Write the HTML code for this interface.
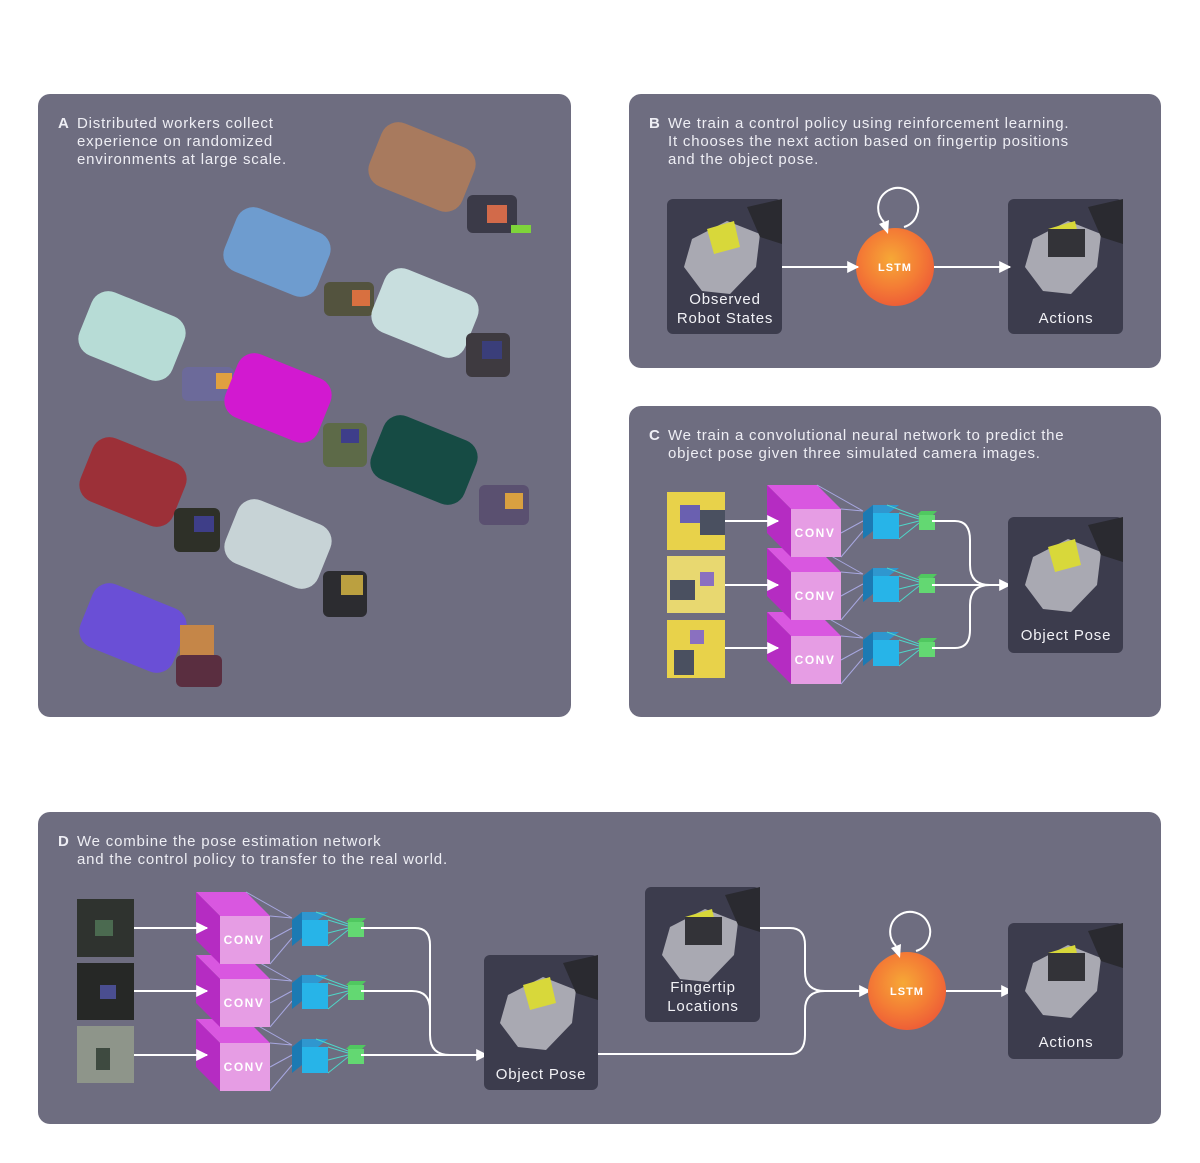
<!DOCTYPE html>
<html><head><meta charset="utf-8"><style>
html,body{margin:0;padding:0;background:#fff;}
svg{display:block;}
text{font-family:"Liberation Sans",sans-serif;}
.t{letter-spacing:0.8px;}
</style></head><body>
<svg width="1200" height="1163" viewBox="0 0 1200 1163" xmlns="http://www.w3.org/2000/svg">
<defs>
<radialGradient id="lstm" cx="0.45" cy="0.4" r="0.6">
<stop offset="0" stop-color="#f6a836"/><stop offset="0.6" stop-color="#f47d35"/><stop offset="1" stop-color="#ee5f36"/>
</radialGradient>
<marker id="ar" viewBox="0 0 10 10" refX="9" refY="5" markerWidth="14" markerHeight="12" markerUnits="userSpaceOnUse" orient="auto">
<path d="M0,0 L10,5 L0,10 z" fill="#fff"/></marker>
<g id="conv">
<polygon points="-24,-24 26,-24 50,0 0,0" fill="#d957e0"/>
<polygon points="-24,-24 0,0 0,48 -24,24" fill="#b52cc2"/>
<rect x="0" y="0" width="50" height="48" fill="#e69de4"/>
<g stroke-width="1" fill="none">
<path d="M26,-24 L72,2 M50,0 L72,2 M50,24 L72,12 M50,48 L72,22" stroke="#a7a7e0"/>
</g>
<polygon points="72,4 82,-4 108,-4 98,4" fill="#2f97cf"/>
<polygon points="72,4 82,-4 82,22 72,30" fill="#1c7ab3"/>
<rect x="82" y="4" width="26" height="26" fill="#27b4e8"/>
<g stroke="#4fd6c8" stroke-width="1" fill="none">
<path d="M96,-4 L128,8 M108,4 L128,10 M108,17 L128,12 M108,30 L128,14"/>
</g>
<polygon points="126,6 130,2 146,2 142,6" fill="#50c860"/>
<rect x="128" y="6" width="16" height="15" fill="#63d872"/>
</g>
<g id="hand">
<polygon points="20,40 55,22 88,35 84,68 58,95 30,92 12,68" fill="#a9a9b2"/>
<polygon points="75,8 110,0 110,45 88,38" fill="#2a2a30"/>
<polygon points="35,30 62,22 68,48 42,55" fill="#d8d83a"/>
</g>
</defs>

<!-- Panel A -->
<rect x="38" y="94" width="533" height="623" rx="12" fill="#6e6d80"/>
<text x="58" y="128" font-size="15" font-weight="bold" fill="#eeeef4">A</text>
<text class="t" font-size="15" fill="#eeeef4"><tspan x="77" y="128">Distributed workers collect</tspan><tspan x="77" y="146">experience on randomized</tspan><tspan x="77" y="164">environments at large scale.</tspan></text>

<g>
<g transform="translate(422,167) rotate(22)"><rect x="-50" y="-34" width="100" height="68" rx="18" fill="#a87a5e"/></g>
<g transform="translate(495,215)"><rect x="-28" y="-20" width="50" height="38" rx="6" fill="#3b3a48"/><rect x="-8" y="-10" width="20" height="18" fill="#d26a4a"/><rect x="16" y="10" width="20" height="8" fill="#7ed43a"/></g>
<g transform="translate(277,252) rotate(22)"><rect x="-50" y="-34" width="100" height="68" rx="18" fill="#6e9ccf"/></g>
<g transform="translate(352,300)"><rect x="-28" y="-18" width="50" height="34" rx="6" fill="#53533e"/><rect x="0" y="-10" width="18" height="16" fill="#d87040"/></g>
<g transform="translate(132,336) rotate(22)"><rect x="-50" y="-34" width="100" height="68" rx="18" fill="#b7dcd6"/></g>
<g transform="translate(425,313) rotate(22)"><rect x="-50" y="-34" width="100" height="68" rx="18" fill="#c8dede"/></g>
<g transform="translate(490,355)"><rect x="-24" y="-22" width="44" height="44" rx="6" fill="#3e3a40"/><rect x="-8" y="-14" width="20" height="18" fill="#3a3e7a"/></g>
<g transform="translate(210,385)"><rect x="-28" y="-18" width="52" height="34" rx="6" fill="#6c6a9a"/><rect x="6" y="-12" width="16" height="16" fill="#e0a040"/></g>
<g transform="translate(278,398) rotate(22)"><rect x="-50" y="-34" width="100" height="68" rx="18" fill="#d219d0"/></g>
<g transform="translate(345,445)"><rect x="-22" y="-22" width="44" height="44" rx="6" fill="#5d6a48"/><rect x="-4" y="-16" width="18" height="14" fill="#3e3e8a"/></g>
<g transform="translate(424,460) rotate(22)"><rect x="-50" y="-34" width="100" height="68" rx="18" fill="#164b44"/></g>
<g transform="translate(505,505)"><rect x="-26" y="-20" width="50" height="40" rx="6" fill="#5a5070"/><rect x="0" y="-12" width="18" height="16" fill="#d9a040"/></g>
<g transform="translate(133,482) rotate(22)"><rect x="-50" y="-34" width="100" height="68" rx="18" fill="#9c3038"/></g>
<g transform="translate(198,530)"><rect x="-24" y="-22" width="46" height="44" rx="6" fill="#2e3028"/><rect x="-4" y="-14" width="20" height="16" fill="#3e3e88"/></g>
<g transform="translate(278,544) rotate(22)"><rect x="-50" y="-34" width="100" height="68" rx="18" fill="#c7d3d6"/></g>
<g transform="translate(345,595)"><rect x="-22" y="-24" width="44" height="46" rx="6" fill="#2c2c30"/><rect x="-4" y="-20" width="22" height="20" fill="#bba040"/></g>
<g transform="translate(133,628) rotate(22)"><rect x="-50" y="-34" width="100" height="68" rx="18" fill="#6a4fd6"/></g>
<g transform="translate(202,655)"><rect x="-22" y="-30" width="34" height="32" fill="#c58648"/><rect x="-26" y="0" width="46" height="32" rx="6" fill="#5a2e40"/></g>
</g>

<!-- Panel B -->
<rect x="629" y="94" width="532" height="274" rx="12" fill="#6e6d80"/>
<text x="649" y="128" font-size="15" font-weight="bold" fill="#eeeef4">B</text>
<text class="t" font-size="15" fill="#eeeef4"><tspan x="668" y="128">We train a control policy using reinforcement learning.</tspan><tspan x="668" y="146">It chooses the next action based on fingertip positions</tspan><tspan x="668" y="164">and the object pose.</tspan></text>
<rect x="667" y="199" width="115" height="135" rx="6" fill="#3c3c4d"/>
<g transform="translate(672,199)"><use href="#hand"/></g>
<text class="t" x="725" y="304" font-size="15" fill="#f2f2f6" text-anchor="middle">Observed</text>
<text class="t" x="725" y="323" font-size="15" fill="#f2f2f6" text-anchor="middle">Robot States</text>
<rect x="1008" y="199" width="115" height="135" rx="6" fill="#3c3c4d"/>
<g transform="translate(1013,199)"><use href="#hand"/><rect x="35" y="30" width="37" height="28" fill="#333338"/></g>
<text class="t" x="1066" y="323" font-size="15" fill="#f2f2f6" text-anchor="middle">Actions</text>
<circle cx="895" cy="267" r="39" fill="url(#lstm)"/>
<text x="895" y="271" font-size="11" font-weight="bold" fill="#fff" text-anchor="middle" letter-spacing="1">LSTM</text>
<path d="M904,227 A20,20 0 1 0 884,222" fill="none" stroke="#fff" stroke-width="2"/>
<polygon points="888,234 879,224 889,220" fill="#fff"/>
<line x1="782" y1="267" x2="858" y2="267" stroke="#fff" stroke-width="2" marker-end="url(#ar)"/>
<line x1="934" y1="267" x2="1010" y2="267" stroke="#fff" stroke-width="2" marker-end="url(#ar)"/>

<!-- Panel C -->
<rect x="629" y="406" width="532" height="311" rx="12" fill="#6e6d80"/>
<text x="649" y="440" font-size="15" font-weight="bold" fill="#eeeef4">C</text>
<text class="t" font-size="15" fill="#eeeef4"><tspan x="668" y="440">We train a convolutional neural network to predict the</tspan><tspan x="668" y="458">object pose given three simulated camera images.</tspan></text>
<rect x="667" y="492" width="58" height="58" fill="#e8d24a"/><rect x="680" y="505" width="20" height="18" fill="#6a60b0"/><rect x="700" y="510" width="25" height="25" fill="#4a5060"/>
<rect x="667" y="556" width="58" height="57" fill="#e8d870"/><rect x="670" y="580" width="25" height="20" fill="#4a5060"/><rect x="700" y="572" width="14" height="14" fill="#8a70c0"/>
<rect x="667" y="620" width="58" height="58" fill="#e8d24a"/><rect x="690" y="630" width="14" height="14" fill="#8a70c0"/><rect x="674" y="650" width="20" height="25" fill="#4a5060"/>
<use href="#conv" x="791" y="636"/>
<use href="#conv" x="791" y="572"/>
<use href="#conv" x="791" y="509"/>
<line x1="725" y1="521" x2="778" y2="521" stroke="#fff" stroke-width="2" marker-end="url(#ar)"/>
<line x1="725" y1="585" x2="778" y2="585" stroke="#fff" stroke-width="2" marker-end="url(#ar)"/>
<line x1="725" y1="648" x2="778" y2="648" stroke="#fff" stroke-width="2" marker-end="url(#ar)"/>
<text x="815" y="537" font-size="12" font-weight="bold" fill="#fff" text-anchor="middle" letter-spacing="1.5">CONV</text>
<text x="815" y="600" font-size="12" font-weight="bold" fill="#fff" text-anchor="middle" letter-spacing="1.5">CONV</text>
<text x="815" y="664" font-size="12" font-weight="bold" fill="#fff" text-anchor="middle" letter-spacing="1.5">CONV</text>
<path d="M932,521 L955,521 Q970,521 970,540 L970,565 Q970,585 990,585" fill="none" stroke="#fff" stroke-width="2"/>
<path d="M932,648 L955,648 Q970,648 970,630 L970,605 Q970,585 990,585" fill="none" stroke="#fff" stroke-width="2"/>
<line x1="932" y1="585" x2="1010" y2="585" stroke="#fff" stroke-width="2" marker-end="url(#ar)"/>
<rect x="1008" y="517" width="115" height="136" rx="6" fill="#3c3c4d"/>
<g transform="translate(1013,517)"><use href="#hand"/></g>
<text class="t" x="1066" y="640" font-size="15" fill="#f2f2f6" text-anchor="middle">Object Pose</text>

<!-- Panel D -->
<rect x="38" y="812" width="1123" height="312" rx="12" fill="#6e6d80"/>
<text x="58" y="846" font-size="15" font-weight="bold" fill="#eeeef4">D</text>
<text class="t" font-size="15" fill="#eeeef4"><tspan x="77" y="846">We combine the pose estimation network</tspan><tspan x="77" y="864">and the control policy to transfer to the real world.</tspan></text>
<rect x="77" y="899" width="57" height="58" fill="#2f332f"/><rect x="95" y="920" width="18" height="16" fill="#4b6a50"/>
<rect x="77" y="963" width="57" height="57" fill="#262826"/><rect x="100" y="985" width="16" height="14" fill="#4a4e90"/>
<rect x="77" y="1026" width="57" height="57" fill="#8e958a"/><rect x="96" y="1048" width="14" height="22" fill="#3e4a40"/>
<use href="#conv" x="220" y="1043"/>
<use href="#conv" x="220" y="979"/>
<use href="#conv" x="220" y="916"/>
<line x1="134" y1="928" x2="207" y2="928" stroke="#fff" stroke-width="2" marker-end="url(#ar)"/>
<line x1="134" y1="991" x2="207" y2="991" stroke="#fff" stroke-width="2" marker-end="url(#ar)"/>
<line x1="134" y1="1055" x2="207" y2="1055" stroke="#fff" stroke-width="2" marker-end="url(#ar)"/>
<text x="244" y="944" font-size="12" font-weight="bold" fill="#fff" text-anchor="middle" letter-spacing="1.5">CONV</text>
<text x="244" y="1007" font-size="12" font-weight="bold" fill="#fff" text-anchor="middle" letter-spacing="1.5">CONV</text>
<text x="244" y="1071" font-size="12" font-weight="bold" fill="#fff" text-anchor="middle" letter-spacing="1.5">CONV</text>
<path d="M361,928 L415,928 Q430,928 430,945 L430,1035 Q430,1055 450,1055" fill="none" stroke="#fff" stroke-width="2"/>
<path d="M361,991 L412,991 Q430,991 430,1010" fill="none" stroke="#fff" stroke-width="2"/>
<line x1="361" y1="1055" x2="487" y2="1055" stroke="#fff" stroke-width="2" marker-end="url(#ar)"/>
<rect x="484" y="955" width="114" height="135" rx="6" fill="#3c3c4d"/>
<g transform="translate(488,955)"><use href="#hand"/></g>
<text class="t" x="541" y="1079" font-size="15" fill="#f2f2f6" text-anchor="middle">Object Pose</text>
<rect x="645" y="887" width="115" height="135" rx="6" fill="#3c3c4d"/>
<g transform="translate(650,887)"><use href="#hand"/><rect x="35" y="30" width="37" height="28" fill="#333338"/></g>
<text class="t" x="703" y="992" font-size="15" fill="#f2f2f6" text-anchor="middle">Fingertip</text>
<text class="t" x="703" y="1011" font-size="15" fill="#f2f2f6" text-anchor="middle">Locations</text>
<path d="M598,1054 L790,1054 Q805,1054 805,1035 L805,1010 Q805,991 825,991" fill="none" stroke="#fff" stroke-width="2"/>
<path d="M760,928 L790,928 Q805,928 805,945 L805,972 Q805,991 825,991" fill="none" stroke="#fff" stroke-width="2"/>
<line x1="820" y1="991" x2="870" y2="991" stroke="#fff" stroke-width="2" marker-end="url(#ar)"/>
<circle cx="907" cy="991" r="39" fill="url(#lstm)"/>
<text x="907" y="995" font-size="11" font-weight="bold" fill="#fff" text-anchor="middle" letter-spacing="1">LSTM</text>
<path d="M916,951 A20,20 0 1 0 896,946" fill="none" stroke="#fff" stroke-width="2"/>
<polygon points="900,958 891,948 901,944" fill="#fff"/>
<line x1="946" y1="991" x2="1012" y2="991" stroke="#fff" stroke-width="2" marker-end="url(#ar)"/>
<rect x="1008" y="923" width="115" height="136" rx="6" fill="#3c3c4d"/>
<g transform="translate(1013,923)"><use href="#hand"/><rect x="35" y="30" width="37" height="28" fill="#333338"/></g>
<text class="t" x="1066" y="1047" font-size="15" fill="#f2f2f6" text-anchor="middle">Actions</text>
</svg>
</body></html>
